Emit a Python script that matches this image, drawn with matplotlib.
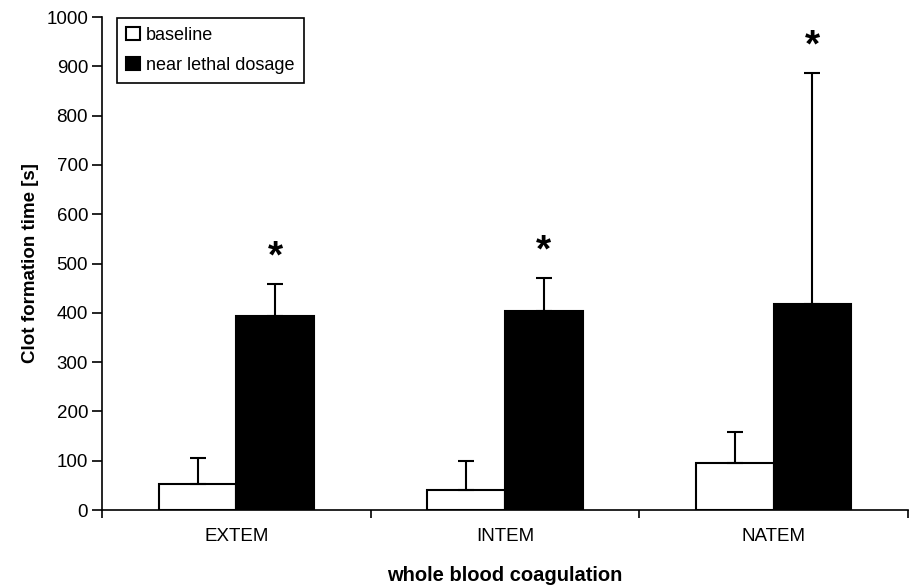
import numpy as np
import matplotlib.pyplot as plt

plt.rcParams['font.family'] = ['Liberation Sans', 'DejaVu Sans']

categories = ["EXTEM", "INTEM", "NATEM"]
baseline = [53, 41, 96]
baseline_sd = [52, 59, 62]
lethal = [394, 403, 418]
lethal_sd = [64, 67, 468]
significant = [True, True, True]

fig = plt.figure(figsize=(9.14, 5.85), dpi=100)
ax = fig.add_axes([0.1116, 0.1282, 0.8818, 0.8427])

x = np.arange(len(categories))
w = 0.289
ax.bar(x - w / 2, baseline, w, color="white", edgecolor="black", linewidth=1.5,
       yerr=[np.zeros(3), baseline_sd], capsize=6,
       error_kw=dict(elinewidth=1.5, capthick=1.5, ecolor="black"),
       label="baseline", zorder=2)
ax.bar(x + w / 2, lethal, w, color="black", edgecolor="black", linewidth=1.5,
       yerr=[np.zeros(3), lethal_sd], capsize=6,
       error_kw=dict(elinewidth=1.5, capthick=1.5, ecolor="black"),
       label="near lethal dosage", zorder=2)

for i, s in enumerate(significant):
    if s:
        top = lethal[i] + lethal_sd[i]
        ax.text(x[i] + w / 2, top + 18, "*", ha="center", va="bottom",
                fontsize=28, fontweight="bold")

ax.set_xlim(-0.5, 2.5)
ax.set_ylim(0, 1000)
ax.set_yticks(np.arange(0, 1001, 100))
ax.set_xticks(x)
ax.set_xticklabels(categories, fontsize=13.5)
ax.set_xticks([-0.5, 0.5, 1.5, 2.5], minor=True)
ax.tick_params(axis="x", which="major", length=0, pad=13)
ax.tick_params(axis="x", which="minor", length=6, width=1.2, direction="out")
ax.tick_params(axis="y", length=7, width=1.2, direction="out", labelsize=13.5, pad=3)

for sp in ["top", "right"]:
    ax.spines[sp].set_visible(False)
for sp in ["left", "bottom"]:
    ax.spines[sp].set_linewidth(1.2)

ax.set_ylabel("Clot formation time [s]", fontsize=13.5, fontweight="bold", labelpad=5)
ax.set_xlabel("whole blood coagulation", fontsize=14.5, fontweight="bold", labelpad=15)

leg = ax.legend(loc="upper left", bbox_to_anchor=(0.019, 0.998), borderaxespad=0,
                fontsize=13, fancybox=False, framealpha=1, edgecolor="black",
                handlelength=0.75, handleheight=0.75, handletextpad=0.35,
                borderpad=0.5, labelspacing=0.7)
leg.get_frame().set_linewidth(1.2)

fig.savefig("out.png", dpi=100)
